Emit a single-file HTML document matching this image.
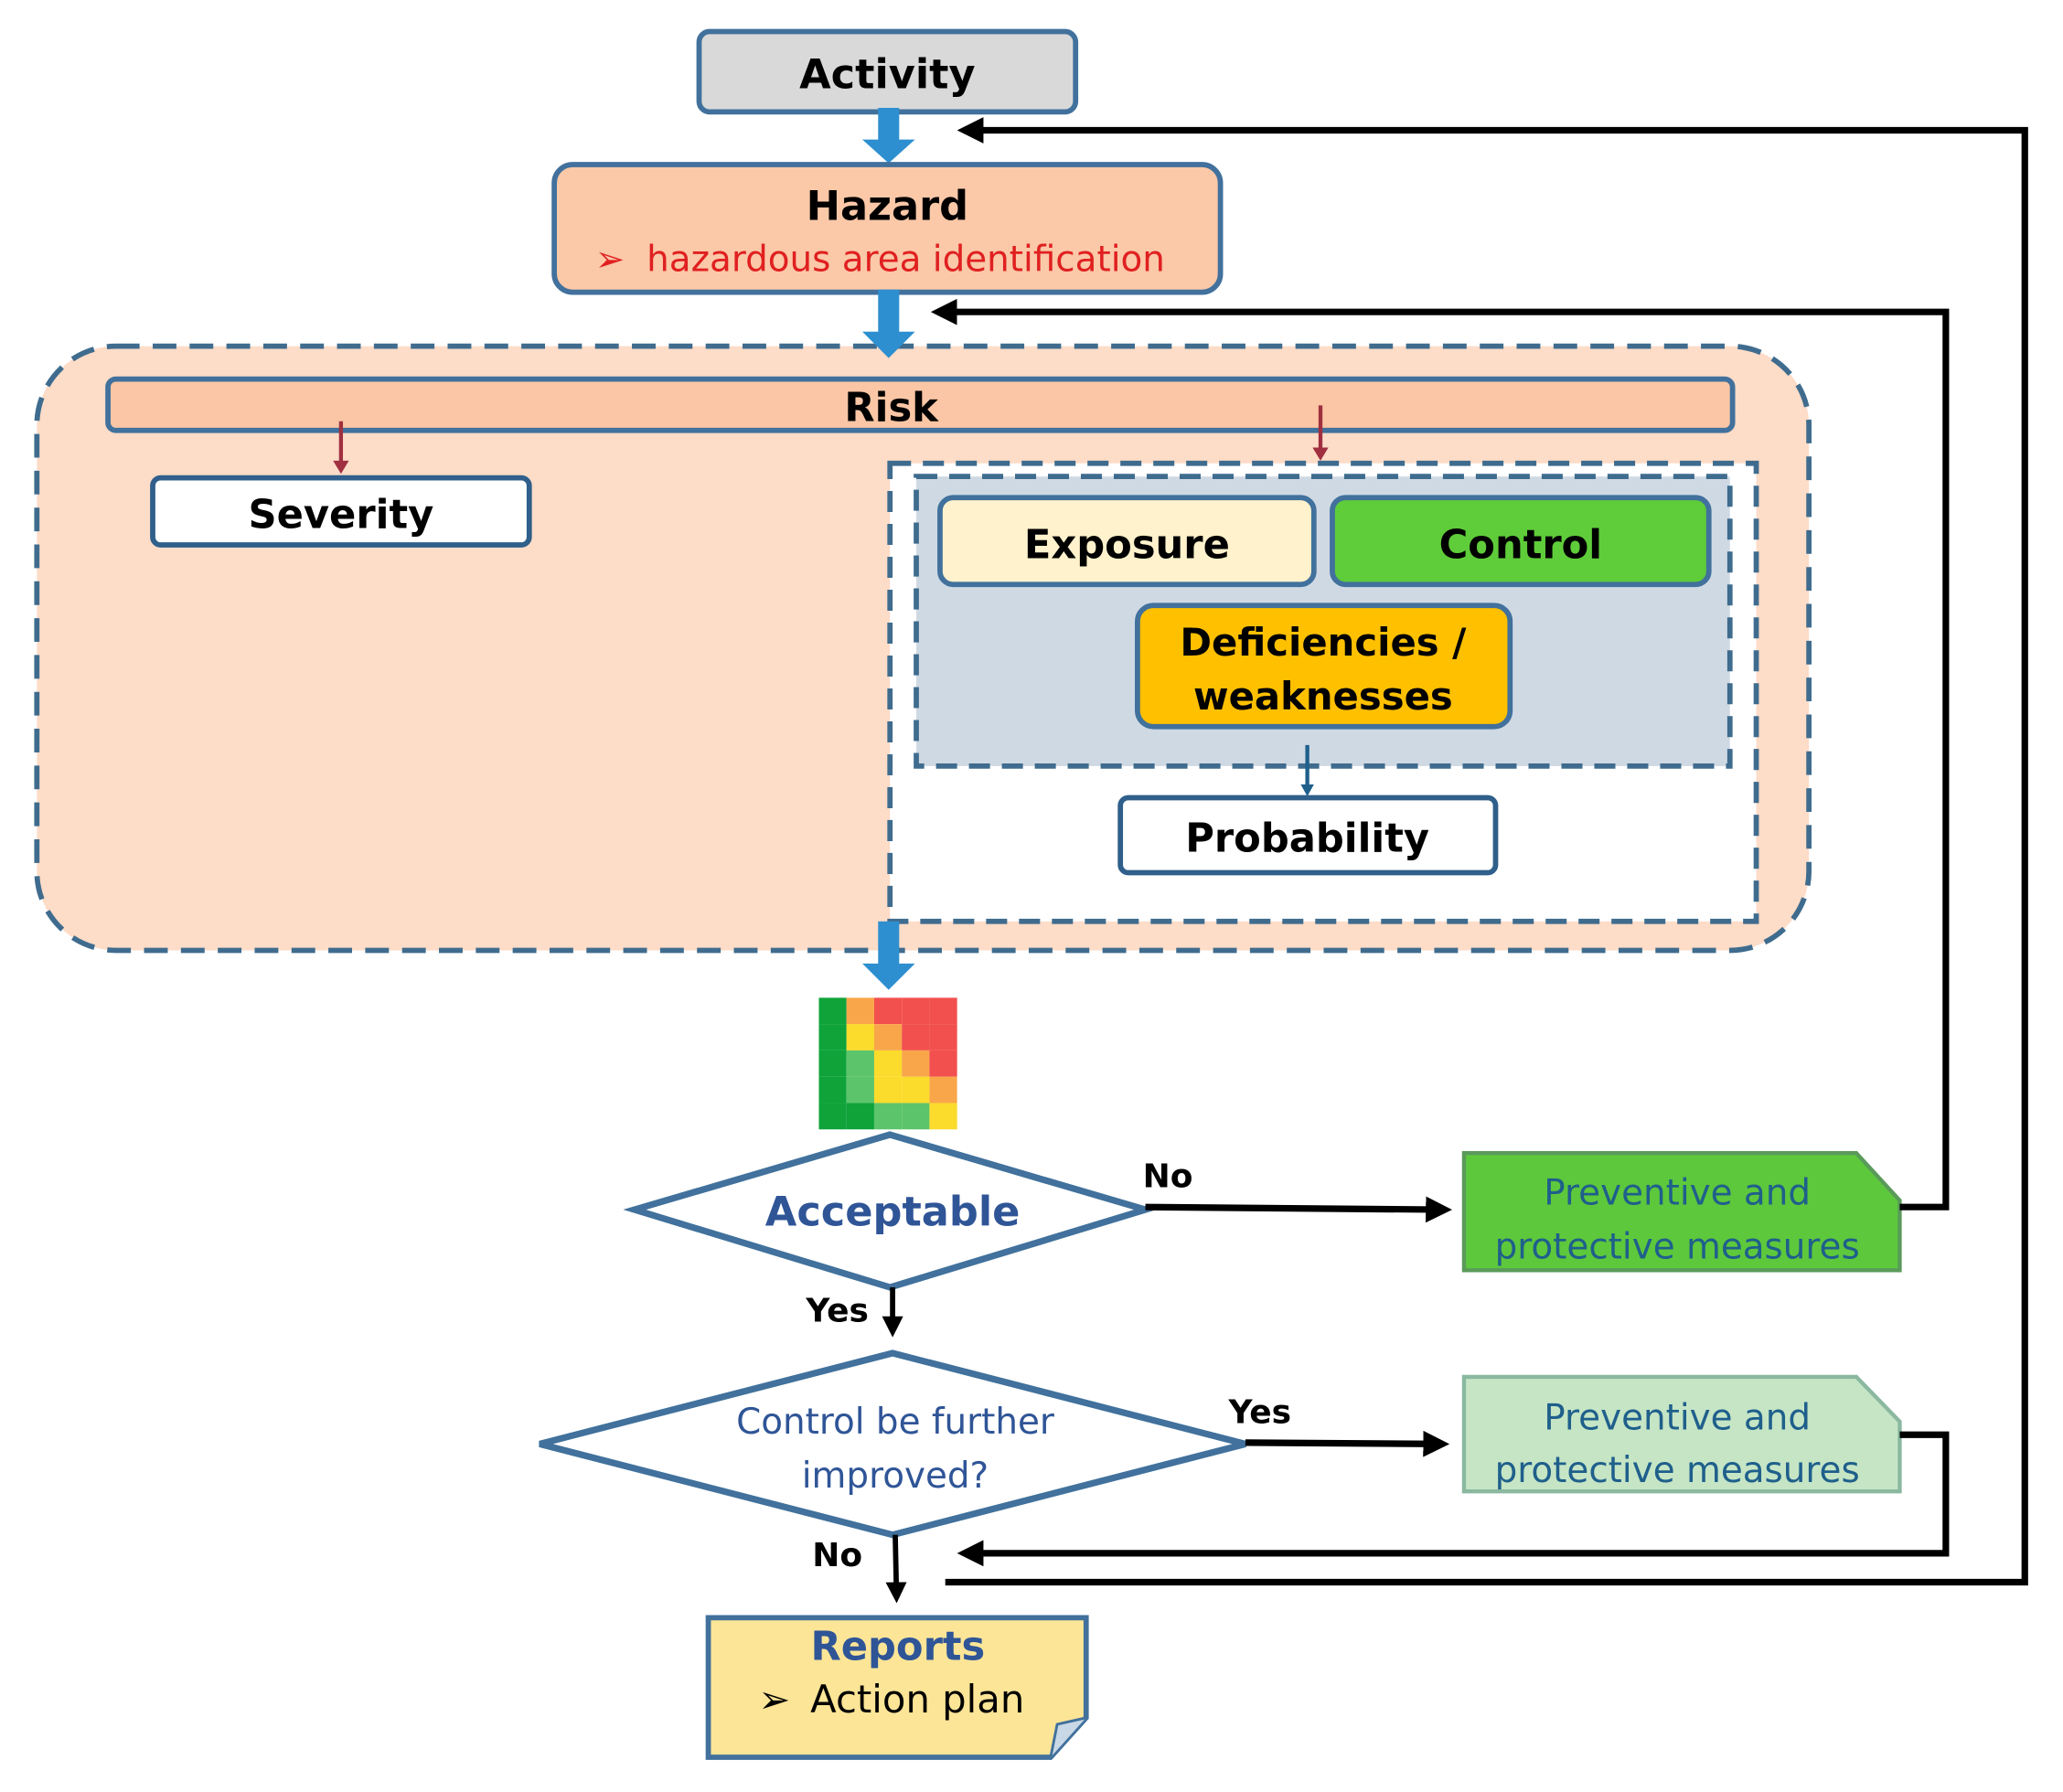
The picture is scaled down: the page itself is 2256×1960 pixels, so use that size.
<!DOCTYPE html>
<html><head><meta charset="utf-8"><style>html,body{margin:0;padding:0;background:#fff}svg{display:block}</style></head><body>
<svg width="2256" height="1960" viewBox="0 0 1567 1361.4" xmlns="http://www.w3.org/2000/svg" font-family="'DejaVu Sans','Liberation Sans',sans-serif">
<defs>
<marker id="ah" markerWidth="4" markerHeight="4" refX="3" refY="2" orient="auto" markerUnits="strokeWidth"><path d="M0,0 L4,2 L0,4 z" fill="#000"/></marker>
</defs>
<rect x="531" y="24" width="286" height="61" rx="8" fill="#d9d9d9" stroke="#41719c" stroke-width="4"/>
<text x="674" y="67" font-size="31" font-weight="bold" text-anchor="middle">Activity</text>
<path d="M667,82 H683 V106 H695 L675,124 L655,106 H667 Z" fill="#2e8fd0"/>
<rect x="421" y="125" width="506" height="97" rx="14" fill="#fbc8a8" stroke="#41719c" stroke-width="4"/>
<text x="674" y="167" font-size="31" font-weight="bold" text-anchor="middle">Hazard</text>
<text x="452" y="206" font-size="27" fill="#e02020">➢ <tspan dx="8">hazardous area identification</tspan></text>
<rect x="28" y="263" width="1346" height="459" rx="60" fill="#fddcc8" stroke="#3f6c8e" stroke-width="4" stroke-dasharray="18,10"/>
<path d="M667,220 H683 V252 H695 L675,272 L655,252 H667 Z" fill="#2e8fd0"/>
<rect x="82" y="288" width="1234" height="39" rx="6" fill="#fbc6a5" stroke="#41719c" stroke-width="4"/>
<text x="677" y="320" font-size="30" font-weight="bold" text-anchor="middle">Risk</text>
<line x1="259" y1="320" x2="259" y2="352" stroke="#a03040" stroke-width="3"/>
<path d="M253,350 L259,360 L265,350 Z" fill="#a03040"/>
<line x1="1003" y1="308" x2="1003" y2="342" stroke="#a03040" stroke-width="3"/>
<path d="M997,340 L1003,350 L1009,340 Z" fill="#a03040"/>
<rect x="116" y="363" width="286" height="51" rx="6" fill="#fff" stroke="#2f5f8a" stroke-width="4"/>
<text x="259" y="401" font-size="30" font-weight="bold" text-anchor="middle">Severity</text>
<rect x="676" y="352" width="658" height="348" fill="#fff" stroke="#3f6c8e" stroke-width="4" stroke-dasharray="16,9"/>
<rect x="696" y="362" width="618" height="220" fill="#cfd9e4" stroke="#3f6c8e" stroke-width="4" stroke-dasharray="16,9"/>
<rect x="714" y="378" width="284" height="66" rx="10" fill="#fff2cc" stroke="#41719c" stroke-width="4"/>
<text x="856" y="424" font-size="30" font-weight="bold" text-anchor="middle">Exposure</text>
<rect x="1012" y="378" width="286" height="66" rx="10" fill="#5fcc3a" stroke="#41719c" stroke-width="4"/>
<text x="1155" y="424" font-size="30" font-weight="bold" text-anchor="middle">Control</text>
<rect x="864" y="460" width="283" height="92" rx="12" fill="#ffc000" stroke="#41719c" stroke-width="4"/>
<text x="1005" y="498" font-size="29" font-weight="bold" text-anchor="middle">Deficiencies /</text>
<text x="1005" y="539" font-size="29" font-weight="bold" text-anchor="middle">weaknesses</text>
<line x1="993" y1="566" x2="993" y2="598" stroke="#1f5f8b" stroke-width="3"/>
<path d="M988,596 L993,605 L998,596 Z" fill="#1f5f8b"/>
<rect x="851" y="606" width="285" height="57" rx="6" fill="#fff" stroke="#2f5f8a" stroke-width="4"/>
<text x="993" y="647" font-size="30" font-weight="bold" text-anchor="middle">Probability</text>
<path d="M667,700 H683 V732 H695 L675,752 L655,732 H667 Z" fill="#2e8fd0"/>
<g>
<rect x="622" y="758" width="21" height="20" fill="#0fa33a"/><rect x="643" y="758" width="21" height="20" fill="#f9a64a"/><rect x="664" y="758" width="21" height="20" fill="#f2504e"/><rect x="685" y="758" width="21" height="20" fill="#f2504e"/><rect x="706" y="758" width="21" height="20" fill="#f2504e"/>
<rect x="622" y="778" width="21" height="20" fill="#0fa33a"/><rect x="643" y="778" width="21" height="20" fill="#fbdb2b"/><rect x="664" y="778" width="21" height="20" fill="#f9a64a"/><rect x="685" y="778" width="21" height="20" fill="#f2504e"/><rect x="706" y="778" width="21" height="20" fill="#f2504e"/>
<rect x="622" y="798" width="21" height="20" fill="#0fa33a"/><rect x="643" y="798" width="21" height="20" fill="#5cc46a"/><rect x="664" y="798" width="21" height="20" fill="#fbdb2b"/><rect x="685" y="798" width="21" height="20" fill="#f9a64a"/><rect x="706" y="798" width="21" height="20" fill="#f2504e"/>
<rect x="622" y="818" width="21" height="20" fill="#0fa33a"/><rect x="643" y="818" width="21" height="20" fill="#5cc46a"/><rect x="664" y="818" width="21" height="20" fill="#fbdb2b"/><rect x="685" y="818" width="21" height="20" fill="#fbdb2b"/><rect x="706" y="818" width="21" height="20" fill="#f9a64a"/>
<rect x="622" y="838" width="21" height="20" fill="#0fa33a"/><rect x="643" y="838" width="21" height="20" fill="#0fa33a"/><rect x="664" y="838" width="21" height="20" fill="#5cc46a"/><rect x="685" y="838" width="21" height="20" fill="#5cc46a"/><rect x="706" y="838" width="21" height="20" fill="#fbdb2b"/>
</g>
<polygon points="676,862 870,919 676,978 482,919" fill="#fff" stroke="#41719c" stroke-width="5"/>
<text x="678" y="931" font-size="31" font-weight="bold" fill="#2f5597" text-anchor="middle">Acceptable</text>
<text x="887" y="902" font-size="25" font-weight="bold" text-anchor="middle">No</text>
<line x1="870" y1="917" x2="1098" y2="919" stroke="#000" stroke-width="5" marker-end="url(#ah)"/>
<path d="M1112,876 H1410 L1443,912 V965 H1112 Z" fill="#5dc83c" stroke="#5a9a5a" stroke-width="3"/>
<text x="1274" y="915" font-size="27" fill="#1f5f8b" text-anchor="middle">Preventive and</text>
<text x="1274" y="956" font-size="27" fill="#1f5f8b" text-anchor="middle">protective measures</text>
<polyline points="1443,917 1478,917 1478,237 712,237" fill="none" stroke="#000" stroke-width="5" marker-end="url(#ah)"/>
<text x="636" y="1004" font-size="25" font-weight="bold" text-anchor="middle">Yes</text>
<line x1="678" y1="978" x2="678" y2="1012" stroke="#000" stroke-width="4" marker-end="url(#ah)"/>
<polygon points="678,1028 946,1097 678,1166 410,1097" fill="#fff" stroke="#41719c" stroke-width="5"/>
<text x="680" y="1089" font-size="27" fill="#2f5597" text-anchor="middle">Control be further</text>
<text x="680" y="1130" font-size="27" fill="#2f5597" text-anchor="middle">improved?</text>
<text x="957" y="1081" font-size="25" font-weight="bold" text-anchor="middle">Yes</text>
<line x1="946" y1="1096" x2="1096" y2="1097" stroke="#000" stroke-width="5" marker-end="url(#ah)"/>
<path d="M1112,1046 H1410 L1443,1080 V1133 H1112 Z" fill="#c5e5c5" stroke="#8ab8a0" stroke-width="3"/>
<text x="1274" y="1086" font-size="27" fill="#1f5f8b" text-anchor="middle">Preventive and</text>
<text x="1274" y="1126" font-size="27" fill="#1f5f8b" text-anchor="middle">protective measures</text>
<polyline points="1443,1090 1478,1090 1478,1180 732,1180" fill="none" stroke="#000" stroke-width="5" marker-end="url(#ah)"/>
<polyline points="718,1202 1538,1202 1538,99 732,99" fill="none" stroke="#000" stroke-width="5" marker-end="url(#ah)"/>
<text x="636" y="1190" font-size="25" font-weight="bold" text-anchor="middle">No</text>
<line x1="680" y1="1166" x2="681" y2="1214" stroke="#000" stroke-width="4" marker-end="url(#ah)"/>
<path d="M538,1229 H825 V1305 L798,1335 H538 Z" fill="#fde597" stroke="#41719c" stroke-width="4"/>
<path d="M798,1335 L803,1310 L825,1305" fill="#c9d8e6" stroke="#41719c" stroke-width="2"/>
<text x="682" y="1261" font-size="30" font-weight="bold" fill="#2f5597" text-anchor="middle">Reports</text>
<text x="576" y="1301" font-size="29" fill="#000">➢ <tspan dx="6">Action plan</tspan></text>
</svg>
</body></html>
